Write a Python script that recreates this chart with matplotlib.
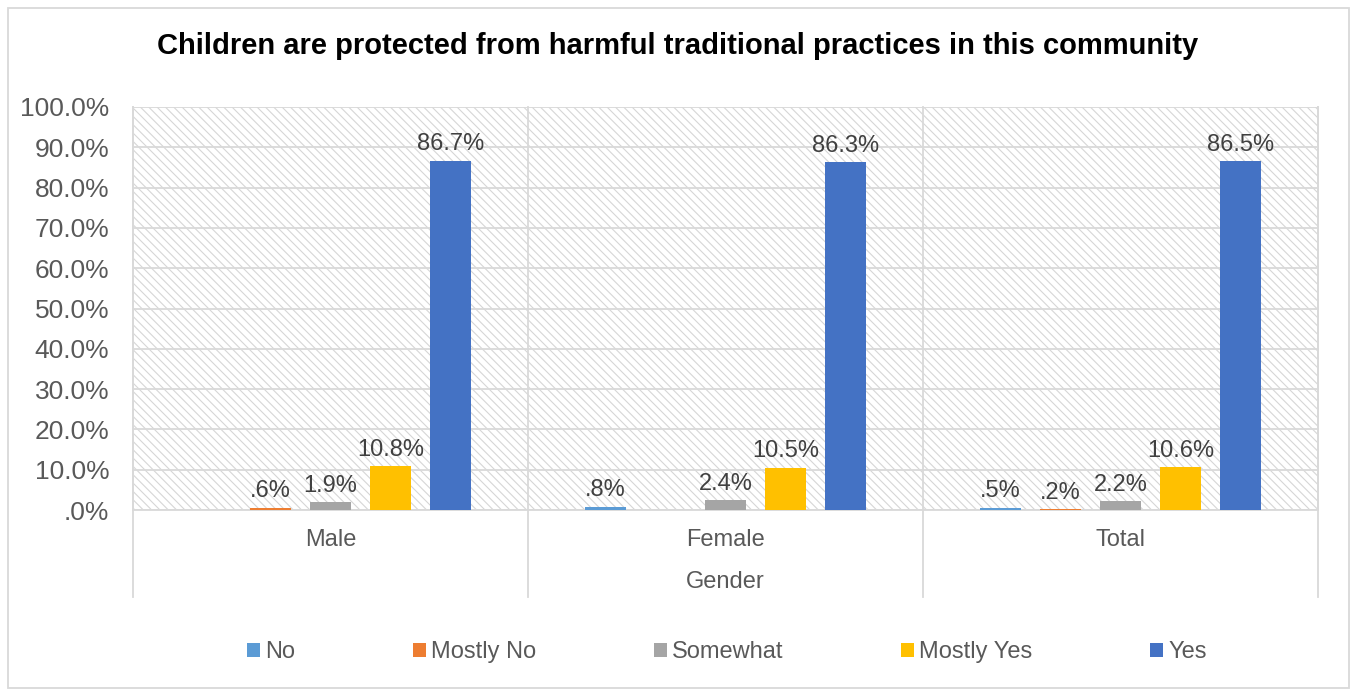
import numpy as np
import matplotlib
matplotlib.use("Agg")
import matplotlib.pyplot as plt
from matplotlib.patches import Rectangle
from matplotlib.ticker import FuncFormatter

# datos (nan = sin barra)
grupos = ["Male", "Female", "Total"]
respuestas = ["No", "Mostly No", "Somewhat", "Mostly Yes", "Yes"]
valores_no = [np.nan, 0.8, 0.5]
valores_mostly_no = [0.6, np.nan, 0.2]
valores_somewhat = [1.9, 2.4, 2.2]
valores_mostly_yes = [10.8, 10.5, 10.6]
valores_yes = [86.7, 86.3, 86.5]
colores = ["#5B9BD5", "#ED7D31", "#A5A5A5", "#FFC000", "#4472C4"]

series = [valores_no, valores_mostly_no, valores_somewhat, valores_mostly_yes, valores_yes]

plt.rcParams["font.family"] = ["Liberation Sans", "DejaVu Sans"]
plt.rcParams["hatch.color"] = "#d6d6d6"
plt.rcParams["hatch.linewidth"] = 0.8

fig = plt.figure(figsize=(13.51, 6.90), dpi=100)
ax = fig.add_axes([133 / 1351, 1 - 510 / 690, (1318 - 133) / 1351, (510 - 107) / 690])

# borde de la figura
fig.patches.append(Rectangle((8 / 1351, 2 / 690), (1349 - 8) / 1351, (682 - 2) / 690,
                             transform=fig.transFigure, fill=False,
                             edgecolor="#d9d9d9", lw=1.3))

# fondo rayado
ax.add_patch(Rectangle((0, 0), 1, 1, transform=ax.transAxes, facecolor="white",
                       edgecolor="#d6d6d6", hatch="\\\\\\\\", lw=0, zorder=0))

x = np.arange(len(grupos))
paso = 60 / 394
ancho = 41 / 394
for i, (nombre, vals, col) in enumerate(zip(respuestas, series, colores)):
    pos = x + (i - 2) * paso
    v = np.array(vals, dtype=float)
    ax.bar(pos, np.nan_to_num(v), width=ancho, color=col, label=nombre, zorder=3)
    for p, val in zip(pos, v):
        if np.isnan(val):
            continue
        txt = "%.1f%%" % val
        if txt.startswith("0"):
            txt = txt[1:]
        ax.annotate(txt, (p, val), xytext=(0, 4), textcoords="offset points",
                    ha="center", va="bottom", fontsize=17, color="#404040", zorder=4)

ax.set_xlim(-0.5, 2.5)
ax.set_ylim(0, 100)
ax.set_yticks(np.arange(0, 101, 10))
ax.yaxis.set_major_formatter(FuncFormatter(lambda v, _: ".0%" if v == 0 else "%.1f%%" % v))
ax.set_xticks(x)
ax.set_xticklabels(grupos)
ax.tick_params(axis="x", length=0, labelsize=17, labelcolor="#595959", pad=14)
ax.tick_params(axis="y", length=0, labelsize=19, labelcolor="#595959", pad=17)
ax.yaxis.grid(True, color="#d9d9d9", lw=1.3, zorder=1)
ax.set_axisbelow(True)
for s in ax.spines.values():
    s.set_color("#d9d9d9")
    s.set_linewidth(1.3)
ax.spines["top"].set_visible(False)

# separadores entre grupos, se extienden bajo el eje
for xv in [-0.5, 0.5, 1.5, 2.5]:
    ax.plot([xv, xv], [-21.6, 100], color="#d9d9d9", lw=1.3, clip_on=False, zorder=2)

fig.text(725.5 / 1351, 1 - 582 / 690, "Gender", ha="center", va="center",
         fontsize=17, color="#595959")
fig.text(678 / 1351, 1 - 46 / 690,
         "Children are protected from harmful traditional practices in this community",
         ha="center", va="center", fontsize=21, fontweight="bold", color="black")

fig.legend(loc="center", bbox_to_anchor=(727 / 1351, 1 - 652 / 690), ncol=5,
           frameon=False, fontsize=17, handlelength=0.55, handleheight=0.55,
           handletextpad=0.2, columnspacing=5.0, labelcolor="#595959")

fig.savefig("out.png", dpi=100)
